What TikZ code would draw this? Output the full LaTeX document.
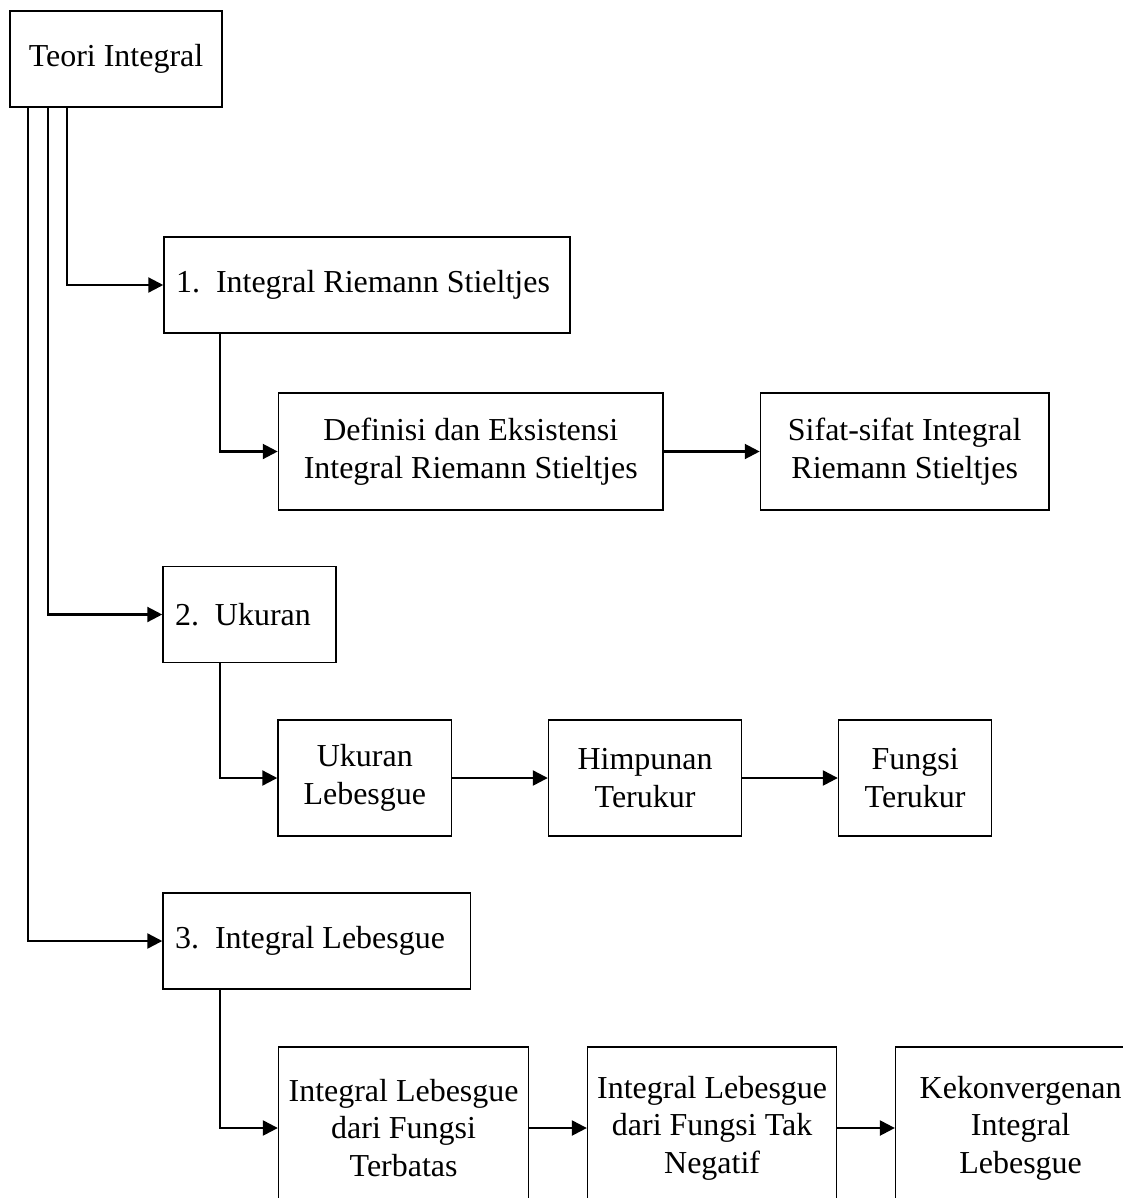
\documentclass[tikz,border=0pt]{standalone}
\usepackage{fontspec}
\setmainfont{Liberation Serif}
\usetikzlibrary{arrows.meta, positioning}

\begin{document}
\begin{tikzpicture}[
    x=0.02cm, y=-0.02cm,
    node distance=1.92cm,
    block/.style={rectangle, draw, line width=0.9pt, inner sep=2pt, align=center, font=\fontsize{18.2}{21.3}\selectfont},
    numblock/.style={block, align=flush left, inner xsep=0.24cm, minimum height=1.92cm},
    arrow/.style={line width=1.3pt, -{Triangle[length=8.5pt,width=8.5pt]}}
]
\clip (0,0) rectangle (1123,1198);

\node[block, minimum width=4.24cm, minimum height=1.92cm] (teori) at (116,59) {Teori Integral};

\node[numblock, text width=7.64cm] (riemann) at (367,285) {1.~~Integral Riemann Stieltjes};
\node[block, minimum width=7.69cm, minimum height=2.34cm] (definisi) at (470.7,451.5) {Definisi dan Eksistensi\\Integral Riemann Stieltjes};
\node[block, minimum width=5.77cm, minimum height=2.34cm, right=of definisi] (sifat) {Sifat-sifat Integral\\Riemann Stieltjes};

\node[numblock, text width=2.98cm] (ukuran) at (249.5,614.5) {2.~~Ukuran};
\node[block, minimum width=3.47cm, minimum height=2.32cm] (ukleb) at (364.8,778) {Ukuran\\Lebesgue};
\node[block, minimum width=3.86cm, minimum height=2.32cm, right=1.91cm of ukleb] (himpunan) {Himpunan\\Terukur};
\node[block, minimum width=3.06cm, minimum height=2.32cm, right=1.91cm of himpunan] (fungsi) {Fungsi\\Terukur};

\node[numblock, text width=5.67cm] (lebesgue) at (316.8,941) {3.~~Integral Lebesgue};
\node[block, minimum width=5cm, minimum height=3.24cm] (terbatas) at (403.6,1128) {Integral Lebesgue\\dari Fungsi\\Terbatas};
\node[block, minimum width=4.98cm, minimum height=3.24cm, right=1.15cm of terbatas] (taknegatif) {Integral Lebesgue\\dari Fungsi Tak\\Negatif};
\node[block, minimum width=5cm, minimum height=3.24cm, right=1.15cm of taknegatif] (konvergen) {Kekonvergenan\\Integral\\Lebesgue};

\draw[arrow] ([xshift=1.16cm]teori.south west) |- (riemann.west);
\draw[arrow] ([xshift=0.77cm]teori.south west) |- (ukuran.west);
\draw[arrow] ([xshift=0.38cm]teori.south west) |- (lebesgue.west);

\draw[arrow] ([xshift=1.14cm]riemann.south west) |- (definisi.west);
\draw[arrow] (definisi) -- (sifat);

\draw[arrow] ([xshift=1.16cm]ukuran.south west) |- (ukleb.west);
\draw[arrow] (ukleb) -- (himpunan);
\draw[arrow] (himpunan) -- (fungsi);

\draw[arrow] ([xshift=1.15cm]lebesgue.south west) |- (terbatas.west);
\draw[arrow] (terbatas) -- (taknegatif);
\draw[arrow] (taknegatif) -- (konvergen);
\end{tikzpicture}
\end{document}
